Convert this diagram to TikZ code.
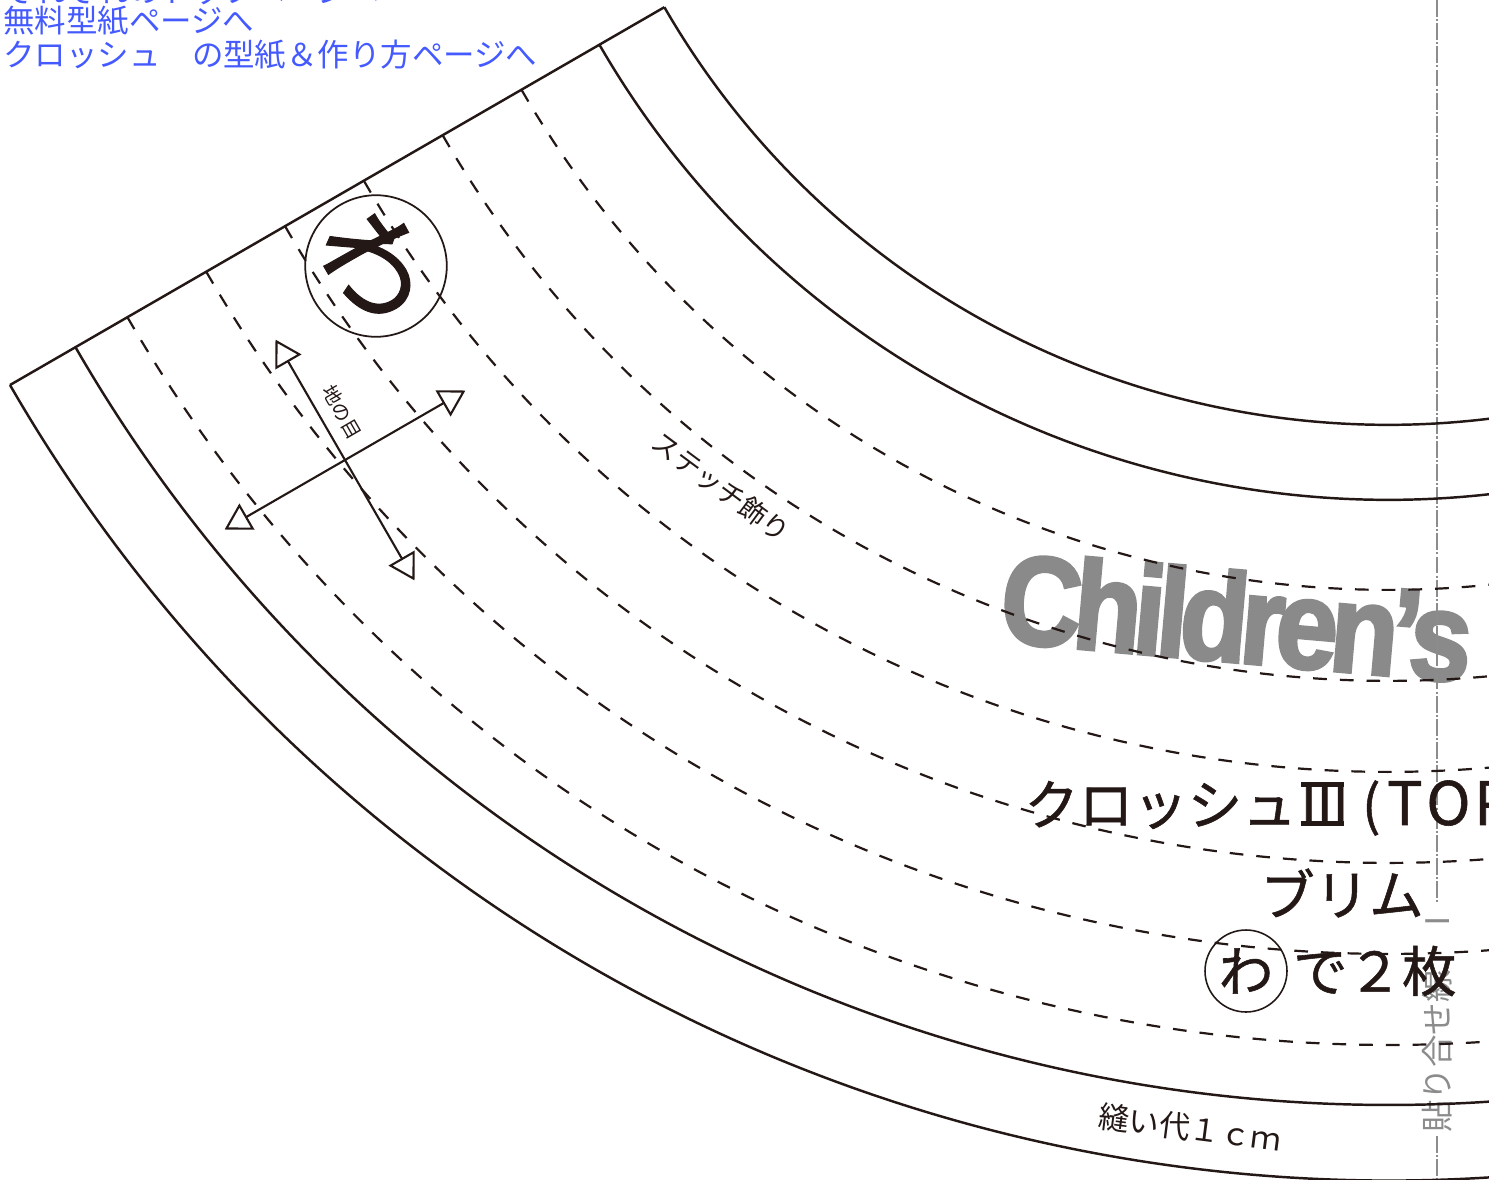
\documentclass[tikz,border=0pt]{standalone}
\usepackage{fontspec}
\setmainfont{Noto Sans CJK JP}
\newfontfamily\jpheavy[FakeBold=1]{Noto Sans CJK JP}
\newfontfamily\logofont[FakeBold=2.6,FakeStretch=0.88,LetterSpace=-6]{Liberation Sans Bold}
\usetikzlibrary{arrows.meta,positioning}
\definecolor{ink}{RGB}{35,24,21}
\definecolor{linkblue}{RGB}{68,90,255}
\definecolor{logogray}{RGB}{138,138,138}
\definecolor{joingray}{RGB}{140,140,140}
\newcommand{\romthree}{\makebox[0.95em][c]{\rlap{\rule[-0.02em]{0.8em}{0.085em}}\rlap{\rule[0.7em]{0.8em}{0.085em}}\makebox[0.8em][s]{I\hfil I\hfil I}}}
\tikzstyle{cutline}=[draw=ink,line width=1.4pt]
\tikzstyle{stitch}=[draw=ink,line width=1.25pt,dash pattern=on 7.8pt off 7.4pt]
\tikzstyle{grainline}=[draw=ink,line width=1.2pt,<->]
\tikzstyle{wamark}=[circle,draw=ink,text=ink,inner sep=0pt]
\tikzstyle{bigtext}=[text=ink,inner sep=0pt,font=\jpheavy\fontsize{31}{36}\selectfont]
\tikzstyle{smalltext}=[text=ink,inner sep=0pt,font=\fontsize{17.5}{20}\selectfont]
\tikzstyle{link}=[text=linkblue,inner sep=0pt,anchor=west,font=\fontsize{17.9}{20}\selectfont]
\tikzstyle{logo}=[text=logogray,inner sep=0pt,font=\logofont\fontsize{72}{80}\selectfont]
\tikzstyle{joinline}=[draw=joingray,line width=1.4pt,dash pattern=on 9.6pt off 1.2pt on 1.2pt off 1.2pt]
\tikzstyle{jointext}=[text=joingray,inner sep=1.5pt,rotate=90,font=\fontsize{18.5}{20}\selectfont]
\begin{document}
\begin{tikzpicture}[x=0.02cm,y=-0.02cm,>={Triangle[open,length=14.7pt,width=17pt]}]
            \useasboundingbox (0,0) rectangle (1489,1180);
            \clip (0,0) rectangle (1489,1180);

            % centre of the brim arcs
            \coordinate (O) at (1387.5,-410.3);

            % LINK PART

            \node[link] (l1) at (3,-9) {それぞれのトップページへ};
            \node[link] (l2) at (3,21) {無料型紙ページへ};
            \node[link] (l3) at (3,55) {クロッシュ　の型紙＆作り方ページへ};

            % LOGO PART

            \node[logo,rotate=-5] (logo) at (1237,617) {Children’s};

            % JOIN LINE PART

            \coordinate (jtop) at (1437,0);
            \coordinate (jbot) at (1437,1180);
            \node[jointext] (join) at (1437,1019) {貼り合せ線　Ⅰ};
            \draw[joinline] (jtop) -- (join.east);
            \draw[joinline] (join.west) -- (jbot);

            % OUTLINE PART

            \path (O) ++(150:1590.6) coordinate (fa);
            \path (O) ++(150:835) coordinate (fb);
            \draw[cutline] (fa) -- (fb);
            \draw[cutline] (fb) arc[start angle=150,end angle=60,radius=835];
            \draw[cutline] (O) ++(150:910) arc[start angle=150,end angle=60,radius=910];
            \draw[cutline] (O) ++(150:1515) arc[start angle=150,end angle=60,radius=1515];
            \draw[cutline] (fa) arc[start angle=150,end angle=60,radius=1590.6];

            % STITCH PART

            \draw[stitch] (O) ++(150:1000) arc[start angle=150,end angle=60,radius=1000];
            \draw[stitch] (O) ++(150:1091) arc[start angle=150,end angle=60,radius=1091];
            \draw[stitch] (O) ++(150:1182) arc[start angle=150,end angle=60,radius=1182];
            \draw[stitch] (O) ++(150:1273) arc[start angle=150,end angle=60,radius=1273];
            \draw[stitch] (O) ++(150:1364) arc[start angle=150,end angle=60,radius=1364];
            \draw[stitch] (O) ++(150:1455) arc[start angle=150,end angle=60,radius=1455];

            % GRAIN PART

            \coordinate (gc) at (345,460);
            \path (gc) ++(240:139) coordinate (g1);
            \path (gc) ++(60:139) coordinate (g2);
            \path (gc) ++(330:139) coordinate (g3);
            \path (gc) ++(150:139) coordinate (g4);
            \draw[grainline] (g1) -- (g2);
            \draw[grainline] (g4) -- (g3);
            \node[text=ink,inner sep=0pt,rotate=-60,font=\fontsize{11}{13}\selectfont] (gname) at (342,412) {地の目};

            % FOLD MARK

            \node[wamark,line width=1pt,minimum size=2.74cm,rotate=-60,font=\jpheavy\fontsize{62}{64}\selectfont] (wa) at (376,266) {わ};

            % TEXT PART

            \path (O) ++(126.6:1118) node[text=ink,inner sep=0pt,rotate=-36.6,font=\fontsize{15.5}{18}\selectfont] (deco) {ステッチ飾り};
            \path (O) ++(97.3:1551) node[smalltext,rotate=-7.3] (seam) {縫い代１ｃｍ};
            \node[bigtext,anchor=west] (name) at (1024,808) {クロッシュ\romthree\kern0.25em(\kern0.12em{\fontsize{34}{36}\selectfont T\kern0.06em O\kern0.06em P}};
            \node[bigtext] (brim) at (1342,893) {ブリム};
            \node[wamark,bigtext,line width=0.9pt,minimum size=1.64cm] (wa2) at (1246,971) {わ};
            \node[bigtext,right=0.1cm of wa2] (count) {で２枚};

        \end{tikzpicture}
\end{document}
